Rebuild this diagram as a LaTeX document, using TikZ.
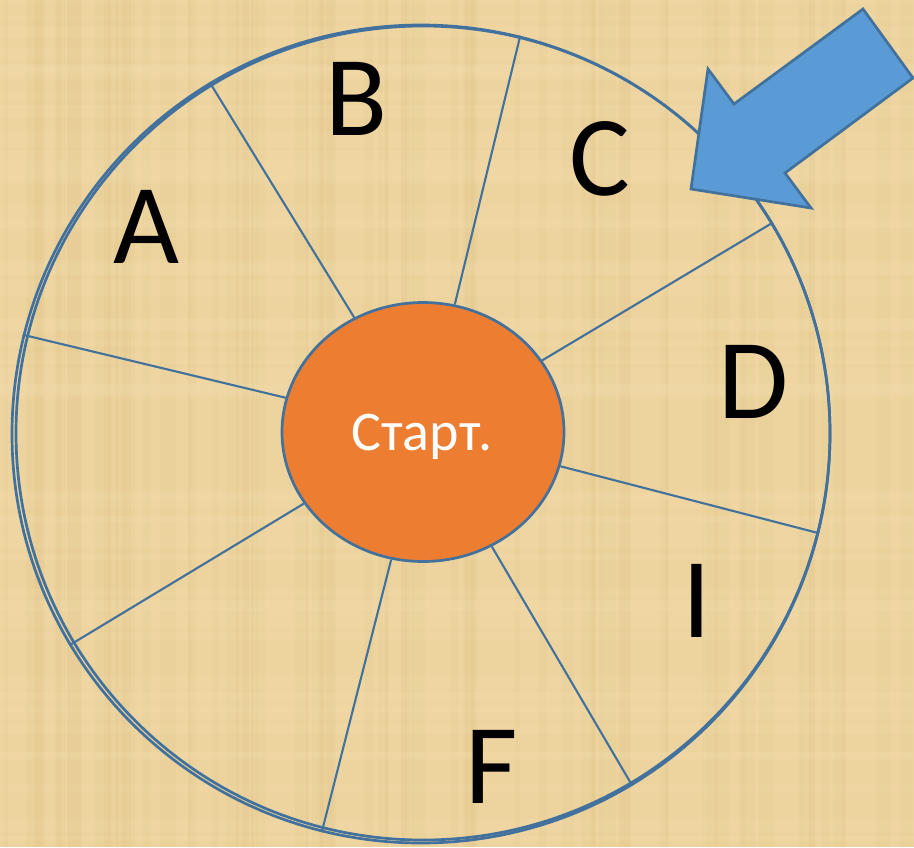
\documentclass[tikz,border=0pt]{standalone}
\usepackage{fontspec}
\setmainfont{Carlito}
\usetikzlibrary{shapes.geometric}
\definecolor{paper}{HTML}{EDD49E}
\definecolor{paperdark}{HTML}{D9B978}
\definecolor{paperlight}{HTML}{F6E2B4}
\definecolor{ringblue}{HTML}{41719C}
\definecolor{arrowblue}{HTML}{5B9BD5}
\definecolor{startorange}{HTML}{ED7D31}
\tikzset{
  ring/.style={draw=ringblue, line width=2.7pt},
  spoke/.style={draw=ringblue, line width=2.1pt},
  letter/.style={anchor=base, font=\fontsize{114}{114}\selectfont, text=black, inner sep=0pt},
  hub/.style={ellipse, draw=ringblue, line width=2.7pt, fill=startorange, minimum width=282pt, minimum height=259pt, inner sep=0pt},
  hublabel/.style={anchor=base, font=\fontsize{56}{56}\selectfont, text=white, inner sep=0pt},
  pointer/.style={draw=ringblue, fill=arrowblue, line width=2.7pt, line join=miter}
}
\begin{document}
\begin{tikzpicture}[x=1pt,y=-1pt]
\fill[paper] (0,0) rectangle (914,847);
\useasboundingbox (0,0) rectangle (914,847);
% subtle papyrus texture
\pgfmathsetseed{7}
\foreach \i in {1,...,70}{
  \pgfmathsetmacro\px{rnd*914}
  \pgfmathsetmacro\pw{2+rnd*14}
  \fill[paperdark, opacity=0.10] (\px,0) rectangle ++(\pw,847);
}
\foreach \i in {1,...,60}{
  \pgfmathsetmacro\py{rnd*847}
  \pgfmathsetmacro\ph{2+rnd*14}
  \fill[paperlight, opacity=0.14] (0,\py) rectangle ++(914,\ph);
}
% outer wheel (double rim)
\node[circle, ring, minimum size=818pt, inner sep=0pt] (wheel) at (421,434) {};
\draw[ring] (423,433) circle[radius=407];
% hub
\node[hub] (hub) at (423,432) {};
% spokes
\foreach \a in {121,76,31,-14,-59,-104,-149,166}{
  \draw[spoke] (hub.\a) -- (wheel.\a);
}
\node[hublabel] (startlabel) at (422,450) {Старт.};
% sector letters
\node[letter] (A) at (146,263) {A};
\node[letter] (B) at (357,135) {B};
\node[letter] (C) at (600,195) {C};
\node[letter] (D) at (754,418) {D};
\node[letter] (I) at (697,637) {I};
\node[letter] (F) at (492,803) {F};
% pointer arrow
\draw[pointer] (863,9) -- (913,78) -- (785,173) -- (811,208) -- (691,189) -- (708,69) -- (734,104) -- cycle;
\end{tikzpicture}
\end{document}
